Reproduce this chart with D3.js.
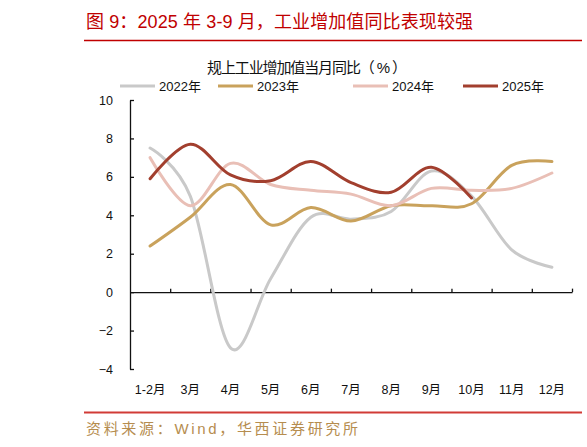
<!DOCTYPE html>
<html>
<head>
<meta charset="utf-8">
<script src="https://cdn.jsdelivr.net/npm/d3@7"></script>
<style>
  body { margin: 0; background: #fff; }
  svg text { font-family: "Liberation Sans", Arial, "Noto Sans CJK SC", sans-serif; }
</style>
</head>
<body>
<div id="viz"></div>
<script>
const months = ['1-2月', '3月', '4月', '5月', '6月', '7月', '8月', '9月', '10月', '11月', '12月'];
const yTicks = [-4, -2, 0, 2, 4, 6, 8, 10];
const years = ['2022年', '2023年', '2024年', '2025年'];
const colors = ['#c9c9c9', '#c9a25c', '#e9bfb6', '#a23f2e'];

const v2022 = [7.5, 5.0, -2.9, 0.7, 3.9, 3.8, 4.2, 6.3, 5.0, 2.2, 1.3];
const v2023 = [2.4, 3.9, 5.6, 3.5, 4.4, 3.7, 4.5, 4.5, 4.6, 6.6, 6.8];
const v2024 = [7.0, 4.5, 6.7, 5.6, 5.3, 5.1, 4.5, 5.4, 5.3, 5.4, 6.2];
const v2025 = [5.9, 7.7, 6.1, 5.8, 6.8, 5.7, 5.2, 6.5, 4.9];

const series = [v2022, v2023, v2024, v2025];

const svg = d3.select('#viz')
  .append('svg')
  .attr('width', 587)
  .attr('height', 447);

// header
svg.append('text')
  .attr('x', 86)
  .attr('y', 28)
  .attr('fill', '#c00000')
  .attr('textLength', 387)
  .style('font-size', '18px')
  .text('图 9：2025 年 3-9 月，工业增加值同比表现较强');

svg.append('line')
  .attr('x1', 84).attr('x2', 582)
  .attr('y1', 40.5).attr('y2', 40.5)
  .attr('stroke', '#c00000')
  .attr('stroke-width', 1.5);

svg.append('text')
  .attr('x', 207)
  .attr('y', 73)
  .attr('fill', '#111')
  .attr('textLength', 200)
  .style('font-size', '15px')
  .text('规上工业增加值当月同比（ % ）');

// legend
const legendX = [120, 218, 353, 463];
years.forEach((name, i) => {
  svg.append('line')
    .attr('x1', legendX[i]).attr('x2', legendX[i] + 35)
    .attr('y1', 86).attr('y2', 86)
    .attr('stroke', colors[i])
    .attr('stroke-width', 3);
  svg.append('text')
    .attr('x', legendX[i] + 39)
    .attr('y', 91)
    .attr('fill', '#111')
    .style('font-size', '13px')
    .text(name);
});

// scales
const x = d3.scaleBand().domain(months).range([130, 572]);
const xi = d3.scaleLinear().domain([0, months.length]).range([130, 572]);
const y = d3.scaleLinear().domain([-4, 10]).range([369, 100]);

// y axis
svg.append('g')
  .attr('transform', 'translate(130,0)')
  .call(d3.axisLeft(y).tickValues(yTicks).tickSize(-4).tickSizeOuter(0).tickPadding(17))
  .call(g => g.selectAll('path, line').attr('stroke', '#111').attr('stroke-width', 1.3))
  .call(g => g.selectAll('text').attr('fill', '#111').style('font-size', '12.5px'));

// x axis on zero line, ticks at band edges
svg.append('g')
  .attr('transform', `translate(0,${y(0)})`)
  .call(d3.axisBottom(xi).tickValues(d3.range(1, months.length + 1)).tickSize(-3.5).tickSizeOuter(0).tickFormat(''))
  .call(g => g.selectAll('path, line').attr('stroke', '#111').attr('stroke-width', 1.3));

// month labels along the bottom
svg.append('g')
  .attr('transform', 'translate(0,378)')
  .call(d3.axisBottom(x).tickSize(0).tickPadding(7))
  .call(g => g.select('.domain').remove())
  .call(g => g.selectAll('text').attr('fill', '#111').style('font-size', '12.5px'));

// lines
const line = d3.line()
  .x((d, i) => x(months[i]) + x.bandwidth() / 2)
  .y(d => y(d))
  .curve(d3.curveCatmullRom.alpha(0));

svg.selectAll('.series')
  .data(series)
  .enter()
  .append('path')
  .attr('class', 'series')
  .attr('fill', 'none')
  .attr('stroke', (d, i) => colors[i])
  .attr('stroke-width', 3)
  .attr('stroke-linecap', 'round')
  .attr('d', d => line(d));

// footer
svg.append('line')
  .attr('x1', 84).attr('x2', 582)
  .attr('y1', 412.5).attr('y2', 412.5)
  .attr('stroke', '#d13b36')
  .attr('stroke-width', 2);

svg.append('text')
  .attr('x', 86)
  .attr('y', 434)
  .attr('fill', '#b68d4f')
  .attr('textLength', 272)
  .style('font-size', '15px')
  .text('资料来源：Wind，华西证券研究所');
</script>
</body>
</html>
